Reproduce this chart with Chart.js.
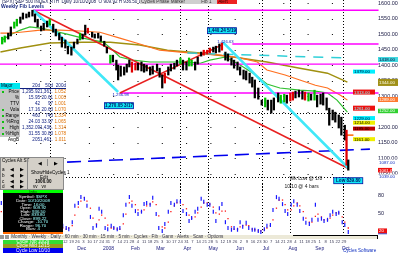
<!DOCTYPE html>
<html>
<head>
<meta charset="utf-8">
<script src="https://cdn.jsdelivr.net/npm/chart.js@4.4.1/dist/chart.umd.min.js"></script>
<style>
  body { margin: 0; width: 400px; height: 255px; overflow: hidden; background: #fff; position: relative; font-family: "Liberation Sans", Arial, sans-serif; }
  canvas { position: absolute; left: 0; }
  #main { top: 0; z-index: 1; }
  #osc { top: 184px; z-index: 2; }
  .abs { position: absolute; z-index: 3; white-space: nowrap; }
  .t { font-size: 4.6px; line-height: 6px; }
  .row { display: flex; height: 6px; }
  .row span { display: block; overflow: hidden; }
  .c1 { width: 20px; text-align: right; padding-right: 1px; box-sizing: border-box; position: relative; }
  .c2 { width: 20px; text-align: right; color: #102080; }
  .c3 { width: 13px; text-align: right; color: #102080; }
  .c4 { width: 13px; text-align: right; color: #e07000; }
  .g .c1 { background: #c4c4c4; }
  .sq::before { content: ""; position: absolute; left: 2px; top: 2px; width: 2px; height: 2px; background: #10c010; }
  #btns span { position: absolute; }
  #blk div { position: absolute; left: 0; width: 60px; font-size: 4.4px; line-height: 3.4px; }
</style>
</head>
<body>
<canvas id="main" width="400" height="190"></canvas>
<canvas id="osc" width="400" height="71"></canvas>

<div class="abs t" style="left:2px;top:-1px;color:#101850">[SPX] S&amp;P 500 INDEX,RTH &nbsp;Daily 10/10/2008 &nbsp;O 909.92 H 936.50 L 839.80 C 899.22</div>
<div class="abs t" style="left:140px;top:0;width:60px;height:4px;line-height:4px;background:#cfcfcf;color:#333">&nbsp;Cycles Phase Marker</div>
<div class="abs t" style="left:200px;top:0;width:17px;height:4px;line-height:4px;background:#cfcfcf;color:#333">&nbsp;Fib 1</div>
<div class="abs t" style="left:217px;top:0;width:20px;height:4px;line-height:4px;background:#ee2222;color:#300">&nbsp;Alert</div>
<div class="abs" style="left:1px;top:4px;font-size:5px;line-height:5px;color:#1a2a80;font-weight:bold">Weekly Fib Levels</div>

<div id="tbl" class="abs t" style="left:0;top:83px;width:66px">
  <div class="row"><span class="c1" style="background:#00e8f0;color:#002;text-align:left;padding-left:1px">Major</span><span class="c2" style="border-bottom:1px solid #102080;height:5px">20d</span><span class="c3" style="border-bottom:1px solid #102080;height:5px">50d</span><span class="c4" style="border-bottom:1px solid #102080;height:5px;color:#102080">200d</span></div>
  <div class="row g"><span class="c1 sq">Price</span><span class="c2">1,295.92</span><span class="c3">1,361.61</span><span class="c4">1.052</span></div>
  <div class="row g"><span class="c1">%</span><span class="c2">15.95</span><span class="c3">20.61</span><span class="c4">1.003</span></div>
  <div class="row g"><span class="c1">TTV</span><span class="c2">42</span><span class="c3">97</span><span class="c4">1.001</span></div>
  <div class="row g"><span class="c1 sq">Vola</span><span class="c2">17.16</span><span class="c3">20.63</span><span class="c4">1.070</span></div>
  <div class="row g"><span class="c1 sq">Range</span><span class="c2">460</span><span class="c3">743</span><span class="c4">1.334</span></div>
  <div class="row g"><span class="c1 sq">%Rng</span><span class="c2">24.03</span><span class="c3">33.97</span><span class="c4">1.065</span></div>
  <div class="row g"><span class="c1 sq">High</span><span class="c2">1,352.09</span><span class="c3">1,436.48</span><span class="c4">1.314</span></div>
  <div class="row g"><span class="c1 sq">%High</span><span class="c2">31.55</span><span class="c3">30.80</span><span class="c4">1.078</span></div>
  <div class="row"><span class="c1">AvgB</span><span class="c2">205</span><span class="c3">1,461.74</span><span class="c4">1.011</span></div>
</div>

<div id="btns" class="abs t" style="left:0;top:157px;width:62px;height:31px;background:#d4d0c8;border:1px solid #8a8a8a;color:#000">
  <span style="left:1px;top:0">Cycles Alt ST</span>
  <span style="left:26px;top:0;width:1px;height:31px;background:#8a8a8a"></span>
  <span style="left:1px;top:9px">a</span><span style="left:9px;top:9px">&#9664;</span><span style="left:19px;top:9px">&#9654;</span>
  <span style="left:1px;top:15px">b</span><span style="left:9px;top:15px">&#9664;</span><span style="left:19px;top:15px">&#9654;</span>
  <span style="left:1px;top:21px">c</span><span style="left:9px;top:21px">&#9664;</span><span style="left:19px;top:21px">&#9654;</span>
  <span style="left:1px;top:26px">d</span><span style="left:9px;top:26px">&#9664;</span><span style="left:19px;top:26px">&#9654;</span>
  <span style="left:37px;top:3px">&#9664;</span><span style="left:46px;top:1px;width:1px;height:7px;background:#8a8a8a"></span><span style="left:53px;top:3px">&#9654;</span>
  <span style="left:30px;top:12px">ShowHideCycles 1</span>
  <span style="left:39px;top:17px">Edit</span>
  <span style="left:34px;top:21px;font-weight:bold">1000.00</span>
  <span style="left:32px;top:26px">vv &nbsp; vv</span>
</div>

<div id="blk" class="abs" style="left:3px;top:190px;width:60px;height:44px;background:#000">
  <div style="top:0;height:3px;background:#00ff00;color:#040;text-align:center;line-height:3px">Info</div>
  <div style="top:5px;color:#fff;text-align:center">Symbol: <span style="color:#9ff">$SPX</span></div>
  <div style="top:9px;color:#fff;text-align:center">Date: <span style="color:#9ff">10/10/2008</span></div>
  <div style="top:12.5px;color:#fff;text-align:center">Time: <span style="color:#9ff">16:00</span></div>
  <div style="top:16px;color:#fff;text-align:center">Open: <span style="color:#9ff">909.92</span></div>
  <div style="top:19.5px;color:#fff;text-align:center">High: <span style="color:#9ff">936.50</span></div>
  <div style="top:23px;color:#fff;text-align:center">Low: <span style="color:#9ff">839.80</span></div>
  <div style="top:26.5px;color:#fff;text-align:center">Close: <span style="color:#9ff">899.22</span></div>
  <div style="top:30px;color:#fff;text-align:center">Change: <span style="color:#9ff">-10.70</span></div>
  <div style="top:33.5px;color:#fff;text-align:center">Range: <span style="color:#9ff">96.70</span></div>
  <div style="top:37px;color:#fff;text-align:center">Bars: <span style="color:#9ff">4</span></div>
  <div style="top:42px;height:2px;background:#ff6a00"></div>
</div>

<div class="abs" style="left:0;top:235px;width:4px;height:4px;background:#999"></div>
<div class="abs" style="left:5px;top:235px;width:4px;height:4px;background:#999"></div>
<div class="abs t" style="left:10px;top:235px;width:367px;height:4px;line-height:4px;background:#ece9d8;color:#334;border-right:1px solid #000">&nbsp;Monthly &middot; Weekly &middot; Daily &middot; 60 min &middot; 30 min &middot; 15 min &middot; 5 min &middot; Cycles &middot; Fib &middot; Gann &middot; Alerts &middot; Scan &middot; Options</div>
<div class="abs" style="left:293px;top:235px;width:85px;height:1px;background:#000"></div>
<div class="abs t" style="left:3px;top:239.5px;width:60px;height:4px;line-height:4px;background:#33dd33;color:#fff;text-align:center">Cycle Top 10/29</div>
<div class="abs t" style="left:3px;top:243.5px;width:60px;height:4px;line-height:4px;background:#9a9a20;color:#fff;text-align:center">Cycle Mid 12/15</div>
<div class="abs t" style="left:3px;top:247.5px;width:60px;height:5px;line-height:5px;background:#0000ee;color:#fff;text-align:center">Cycle Low 10/10</div>
<div class="abs t" style="left:343px;top:248px;color:#1030c0">Cycles Software</div>

<script>
// price bars (day 0 = 1 Sep 2007)
const candleDays = [-1, 2, 6, 9, 13, 16, 20, 23, 27, 30, 34, 37, 40, 44, 47, 51, 54, 58, 61, 65,
  68, 72, 75, 79, 82, 86, 89, 92, 95, 98, 103, 106, 110, 113, 117, 120, 124, 127, 131, 133,
  136, 140, 143, 146, 149, 153, 156, 160, 163, 166, 170, 173, 178, 181, 184, 187, 191, 194, 198, 201,
  205, 208, 212, 215, 218, 222, 225, 229, 232, 236, 239, 243, 246, 250, 253, 257, 260, 264, 267, 271,
  274, 278, 281, 285, 288, 291, 295, 299, 303, 306, 310, 313, 318, 321, 325, 328, 332, 335, 338, 342,
  346, 349, 353, 356, 360, 363, 367, 370, 374, 377, 381, 384, 388, 391, 395, 397, 399];
const candleHigh = [1490, 1494, 1503, 1523, 1539, 1548, 1555, 1568, 1565, 1571, 1577, 1565, 1548, 1526, 1535, 1542, 1548, 1532, 1516, 1503,
  1490, 1481, 1461, 1458, 1474, 1484, 1503, 1500, 1529, 1519, 1506, 1500, 1503, 1494, 1477, 1458, 1432, 1432, 1416, 1400,
  1397, 1394, 1403, 1416, 1410, 1406, 1406, 1410, 1403, 1400, 1394, 1397, 1403, 1390, 1368, 1374, 1394, 1403, 1406, 1416,
  1423, 1416, 1410, 1423, 1416, 1410, 1426, 1442, 1448, 1448, 1455, 1458, 1461, 1468, 1471, 1442, 1436, 1423, 1416, 1410,
  1394, 1384, 1381, 1374, 1361, 1352, 1326, 1287, 1294, 1287, 1287, 1294, 1310, 1303, 1306, 1303, 1310, 1313, 1316, 1319,
  1316, 1313, 1310, 1306, 1319, 1303, 1306, 1310, 1294, 1261, 1255, 1248, 1239, 1232, 1206, 1190, 1094];
const candleLow = [1468, 1474, 1484, 1494, 1519, 1526, 1535, 1548, 1552, 1555, 1558, 1539, 1523, 1510, 1513, 1523, 1529, 1506, 1494, 1481,
  1458, 1455, 1436, 1432, 1455, 1468, 1481, 1484, 1497, 1503, 1490, 1487, 1487, 1477, 1461, 1439, 1406, 1410, 1384, 1352,
  1364, 1368, 1377, 1394, 1377, 1384, 1384, 1381, 1377, 1381, 1368, 1371, 1381, 1361, 1326, 1342, 1368, 1381, 1387, 1397,
  1403, 1384, 1384, 1397, 1397, 1384, 1403, 1429, 1432, 1436, 1439, 1442, 1439, 1442, 1448, 1416, 1413, 1400, 1390, 1384,
  1368, 1355, 1352, 1342, 1329, 1294, 1290, 1271, 1265, 1255, 1245, 1255, 1281, 1277, 1281, 1277, 1284, 1287, 1294, 1297,
  1290, 1287, 1284, 1287, 1287, 1265, 1274, 1271, 1255, 1206, 1223, 1216, 1197, 1174, 1158, 1077, 1061];
// paint-bar signal: 1 up, -1 down, 0 neutral
const paintSignal = [1, 1, 0, 0, 1, 1, 0, 0, 0, 0, 0, 0, 0, 0, 0, 0, 1, 0, 0, 0,
  0, 0, 0, 0, 0, 0, 1, 0, 0, -1, 0, 0, 0, 0, 0, 0, 1, 0, 0, 0,
  0, 0, 0, 0, -1, -1, 0, 0, 0, 0, 0, 0, 0, 0, 0, -1, 0, 0, 0, 0,
  1, 0, 0, 1, 1, 0, 0, 0, -1, -1, -1, 0, 0, 0, -1, 0, 0, 0, 0, 0,
  0, 0, 0, 0, 0, 0, 0, 0, 1, 0, 0, 0, 0, 1, 1, 0, -1, -1, 0, 0,
  0, -1, 1, 0, 1, 0, 0, 0, 0, 0, 0, 0, 0, 0, 0, -1, 0];

// moving averages
const orangeDays = [-3, 8, 20, 43, 66, 89, 112, 135, 158, 181, 205, 228, 251, 274, 294, 305, 326, 343, 361, 375, 390, 398];
const orangeMA = [1503, 1503, 1506, 1513, 1513, 1510, 1506, 1487, 1468, 1448, 1442, 1436, 1432, 1423, 1410, 1384, 1368, 1352, 1335, 1326, 1303, 1287];
const greenDays = [-1, 8, 20, 31, 43, 54, 74, 92, 116, 127, 135, 150, 170, 190, 213, 228, 239, 257, 274, 289, 305, 320, 343, 361, 375, 386, 398];
const greenMA = [1481, 1497, 1513, 1523, 1519, 1513, 1500, 1487, 1474, 1448, 1426, 1416, 1410, 1410, 1410, 1406, 1416, 1426, 1400, 1374, 1339, 1326, 1319, 1316, 1310, 1287, 1248];
const oliveDays = [-3, 20, 54, 92, 124, 158, 190, 228, 266, 305, 343, 375, 398];
const oliveMA = [1442, 1455, 1471, 1474, 1474, 1465, 1448, 1439, 1426, 1410, 1390, 1374, 1345];

// trend lines and levels
const redTrendDays = [35, 398], redTrendPrices = [1577, 1068];
const redRiseDays = [135, 253], redRisePrices = [1310, 1465];
const cyanTrendDays = [35, 133], cyanTrendPrices = [1577, 1313];
const cyanFallDays = [254, 399], cyanFallPrices = [1474, 1068];
const fibLevels = [1577, 1468, 1403, 1310];
const fibStartDays = [35, 265, -4, 135];
const fibEndDay = 434;
const blueDays = [74, 424], bluePrices = [1087, 1129];
const cyanDashDays = [213, 395], cyanDashPrices = [1439, 1423];
const lastDays = [397, 405], lastPrices = [1174, 1174];
const denseLevels = [1245, 1039];
const cycleDays = [54, 205, 237, 299, 332, 393];

const priceTicks = [1600, 1550, 1500, 1450, 1400, 1350, 1300, 1250, 1200, 1150, 1100, 1050];
const markerPrices = [1418, 1379, 1344, 1313, 1289, 1252, 1261, 1229, 1214, 1195, 1161, 1087, 1061, 1039];
const markerKinds = ['cyanAxis', 'cyanIn', 'oliveAxis', 'redIn', 'orangeAxis', 'greenAxis', 'redIn', 'cyanIn', 'yellowIn', 'darkIn', 'yellowIn', 'blueText', 'redAxis', 'blueText'];

const noteDays = [253, 257, 134, 136, 399, 350, 345];
const notePrices = [1511, 1476, 1269, 1305, 1027, 1034, 1008];
const noteTexts = ['1,440.24 5/19', '1,426.63', '1,270.05 3/17', '1,256.98', 'Low 839.80', 'Wk Low @ 1/8', '10/10 @ 4 bars'];
const noteKinds = ['box', 'small', 'box', 'small', 'box', 'text', 'text'];

// oscillator
const oscDays = [-2, 69, 73, 76, 80, 83, 87, 90, 94, 97, 101, 104, 108, 111, 114, 118, 121, 125, 128, 132, 135,
  139, 142, 146, 149, 153, 156, 160, 163, 166, 170, 173, 177, 180, 184, 187, 191, 194, 198, 201, 205,
  208, 212, 215, 218, 222, 225, 229, 232, 236, 239, 243, 246, 250, 253, 257, 260, 264, 267, 271, 274,
  277, 281, 284, 288, 291, 295, 298, 302, 305, 309, 312, 316, 319, 323, 326, 329, 333, 336, 340, 343,
  347, 350, 354, 357, 361, 364, 368, 371, 375, 378, 381, 385, 388, 392, 395, 399];
const oscK = [68, 29, 25, 23, 35, 63, 68, 78, 75, 63, 44, 25, 29, 58, 53, 25, 23, 29, 25, 23, 25,
  47, 65, 78, 63, 54, 49, 53, 66, 68, 65, 77, 49, 25, 20, 32, 53, 68, 65, 71, 70,
  54, 49, 37, 42, 53, 58, 75, 70, 65, 65, 53, 37, 59, 66, 35, 25, 22, 25, 22, 35,
  27, 34, 25, 22, 22, 20, 18, 23, 29, 30, 56, 78, 75, 66, 54, 49, 65, 71, 65, 54,
  41, 34, 32, 39, 65, 39, 41, 37, 39, 47, 53, 49, 51, 35, 30, 18];
const oscD = [53, 25, 23, 25, 29, 47, 61, 71, 77, 71, 59, 42, 32, 39, 47, 42, 30, 25, 25, 23, 23,
  32, 49, 68, 71, 65, 56, 53, 56, 63, 66, 70, 65, 46, 27, 25, 35, 53, 63, 68, 70,
  65, 58, 47, 42, 44, 51, 61, 68, 68, 66, 61, 51, 49, 54, 54, 41, 27, 23, 23, 27,
  29, 30, 29, 23, 22, 20, 20, 22, 25, 29, 39, 59, 73, 73, 65, 56, 56, 63, 68, 63,
  53, 42, 35, 35, 45, 49, 44, 39, 39, 42, 47, 51, 51, 44, 35, 25];
const oscTicks = [80, 50];
const oscLastLabel = 20;

const monthDays = [91, 122, 153, 182, 213, 243, 274, 304, 335, 366, 396];
const monthLabels = ['Dec', '2008', 'Feb', 'Mar', 'Apr', 'May', 'Jun', 'Jul', 'Aug', 'Sep', 'Oct'];

const X_MIN = -3.5, X_MAX = 401;
const FONT = '"Liberation Sans", Arial, sans-serif';
Chart.defaults.font.family = FONT;

function pts(days, vals) {
    return days.map((d, i) => ({ x: d, y: vals[i] }));
}

function dayDate(d) {
    return new Date(2007, 8, 1 + d);
}

// weekly calendar ticks (Mondays)
const weekTicks = [];
for (let d = 2; d <= X_MAX; d += 7) weekTicks.push(d);

const markerStyles = {
    cyanAxis: { x: 378, w: 20, h: 5, bg: '#40d8e0', fg: '#003' },
    cyanIn: { x: 353, w: 22, h: 4, bg: '#00f0ff', fg: '#003' },
    oliveAxis: { x: 378, w: 20, h: 7, bg: '#a09018', fg: '#ffe' },
    redIn: { x: 353, w: 22, h: 5, bg: '#ee1010', fg: '#8ff' },
    orangeAxis: { x: 378, w: 20, h: 5, bg: '#ff7a30', fg: '#fff' },
    greenAxis: { x: 378, w: 20, h: 4.5, bg: '#30d030', fg: '#fff' },
    yellowIn: { x: 353, w: 22, h: 4, bg: '#f0f000', fg: '#000' },
    darkIn: { x: 353, w: 22, h: 4, bg: '#c00000', fg: '#000' },
    redAxis: { x: 378, w: 14, h: 4.5, bg: '#ee1010', fg: '#fff' },
    blueText: { x: 378, w: 20, h: 5, bg: '#fff', fg: '#1030c0' }
};

function hline(ctx, x1, x2, y) {
    ctx.beginPath(); ctx.moveTo(x1, y); ctx.lineTo(x2, y); ctx.stroke();
}
function vline(ctx, x, y1, y2) {
    ctx.beginPath(); ctx.moveTo(x, y1); ctx.lineTo(x, y2); ctx.stroke();
}

const dotGrid = {
    id: 'dotGrid',
    beforeDatasetsDraw(chart) {
        const { ctx, chartArea: a, scales } = chart;
        const x = scales.x, y = scales.y;
        ctx.save();
        ctx.strokeStyle = '#000';
        ctx.lineWidth = 1;
        if (chart.canvas.id === 'main') {
            ctx.setLineDash([1, 23.3]);
            ctx.lineDashOffset = -16;
            priceTicks.forEach(p => hline(ctx, a.left, a.right, Math.round(y.getPixelForValue(p)) + 0.5));
            ctx.setLineDash([1, 2]);
            ctx.lineDashOffset = 0;
            denseLevels.forEach(p => hline(ctx, a.left, a.right, Math.round(y.getPixelForValue(p)) + 0.5));
        }
        ctx.setLineDash([1, 2]);
        cycleDays.forEach(d => vline(ctx, Math.round(x.getPixelForValue(d)) + 0.5, a.top, a.bottom));
        ctx.restore();
    }
};

const notes = {
    id: 'notes',
    afterDatasetsDraw(chart) {
        const { ctx, scales: { x, y } } = chart;
        ctx.save();
        ctx.textBaseline = 'middle';
        ctx.textAlign = 'center';
        noteDays.forEach((d, i) => {
            const cx = x.getPixelForValue(d), cy = y.getPixelForValue(notePrices[i]);
            const kind = noteKinds[i];
            if (kind === 'box') {
                ctx.fillStyle = '#10e8f4';
                ctx.fillRect(cx - 14.5, cy - 3, 29, 6);
                ctx.strokeStyle = '#0010a0';
                ctx.lineWidth = 0.8;
                ctx.strokeRect(cx - 14.5, cy - 3, 29, 6);
                ctx.fillStyle = '#001060';
                ctx.font = 'bold 4.6px ' + FONT;
                ctx.fillText(noteTexts[i], cx, cy + 0.3);
            } else {
                ctx.fillStyle = kind === 'small' ? '#1020c0' : '#202020';
                ctx.font = (kind === 'small' ? '4.2px ' : '5px ') + FONT;
                ctx.fillText(noteTexts[i], cx, cy);
            }
        });
        ctx.restore();
    }
};

// right-hand axis text and coloured price boxes
const priceAxis = {
    id: 'priceAxis',
    afterDraw(chart) {
        const { ctx, scales: { y } } = chart;
        ctx.save();
        ctx.textBaseline = 'middle';
        ctx.font = '5.5px ' + FONT;
        ctx.fillStyle = '#202048';
        priceTicks.forEach(p => ctx.fillText(p.toFixed(2), 378, y.getPixelForValue(p)));
        ctx.font = '4.4px ' + FONT;
        markerPrices.forEach((p, i) => {
            const st = markerStyles[markerKinds[i]];
            const cy = y.getPixelForValue(p);
            ctx.fillStyle = st.bg;
            ctx.fillRect(st.x, cy - st.h / 2, st.w, st.h);
            ctx.fillStyle = st.fg;
            ctx.fillText(p.toFixed(2), st.x + 1, cy + 0.3);
        });
        ctx.restore();
    }
};

function lineSet(days, vals, color, width, extra) {
    return Object.assign({
        type: 'line', data: pts(days, vals), borderColor: color, borderWidth: width,
        pointRadius: 0, tension: 0, fill: false
    }, extra || {});
}

const datasets = [{
    type: 'bar',
    data: candleDays.map((d, i) => ({ x: d, y: [candleLow[i], candleHigh[i]] })),
    backgroundColor: paintSignal.map(s => s > 0 ? '#00c000' : s < 0 ? '#e00000' : '#000'),
    barThickness: 1.6,
    borderWidth: 0
},
lineSet(cyanTrendDays, cyanTrendPrices, '#40e8f8', 2.6),
lineSet(cyanFallDays, cyanFallPrices, '#40e8f8', 2.6),
lineSet(redTrendDays, redTrendPrices, '#e82020', 1.5),
lineSet(redRiseDays, redRisePrices, '#e82020', 1.5),
lineSet(lastDays, lastPrices, '#ff7010', 1.6, { clip: false })];

fibLevels.forEach((lv, i) => {
    datasets.push(lineSet([fibStartDays[i], fibEndDay], [lv, lv], '#ff00ff', 1.3, { clip: false }));
});
datasets.push(lineSet(blueDays, bluePrices, '#0000ee', 1.6, { borderDash: [14, 7], clip: false }));
datasets.push(lineSet(cyanDashDays, cyanDashPrices, '#30d0d8', 1.5, { borderDash: [10, 8] }));
datasets.push(lineSet(orangeDays, orangeMA, '#ff7020', 1.2));
datasets.push(lineSet(greenDays, greenMA, '#30c030', 1.2));
datasets.push(lineSet(oliveDays, oliveMA, '#a09010', 1.5));

new Chart(document.getElementById('main'), {
    type: 'bar',
    data: { datasets },
    options: {
        responsive: false,
        animation: false,
        layout: { padding: 0, autoPadding: false },
        plugins: { legend: { display: false }, tooltip: { enabled: false } },
        scales: {
            x: { type: 'linear', min: X_MIN, max: X_MAX, offset: false, display: false },
            y: {
                position: 'right', min: 997, max: 1610,
                afterFit(s) { s.width = 50; },
                grid: { display: false, drawTicks: false },
                border: { display: false },
                ticks: { display: false }
            }
        }
    },
    plugins: [dotGrid, notes, priceAxis]
});

// oscillator axis text, date rows and last-value box
const oscAxis = {
    id: 'oscAxis',
    afterDraw(chart) {
        const { ctx, chartArea: a, scales: { x, y } } = chart;
        ctx.save();
        ctx.textBaseline = 'middle';
        ctx.font = '5.5px ' + FONT;
        ctx.fillStyle = '#202048';
        oscTicks.forEach(v => ctx.fillText(String(v), 378, y.getPixelForValue(v)));
        const cy = y.getPixelForValue(oscLastLabel);
        ctx.fillStyle = '#ee1010';
        ctx.fillRect(378, cy - 2.5, 9, 5);
        ctx.fillStyle = '#1020c0';
        ctx.fillRect(378, cy + 2.5, 9, 0.8);
        ctx.fillStyle = '#fff';
        ctx.font = '4.4px ' + FONT;
        ctx.fillText(String(oscLastLabel), 379, cy + 0.3);

        ctx.textAlign = 'center';
        ctx.fillStyle = '#40405a';
        ctx.font = '4.2px ' + FONT;
        weekTicks.forEach(d => {
            const px = x.getPixelForValue(d);
            if (px > 62 && px < a.right) ctx.fillText(String(dayDate(d).getDate()), px, a.bottom + 6.5);
        });
        ctx.fillStyle = '#202080';
        ctx.font = '5px ' + FONT;
        monthDays.forEach((d, i) => ctx.fillText(monthLabels[i], x.getPixelForValue(d), a.bottom + 13.5));
        ctx.restore();
    }
};

new Chart(document.getElementById('osc'), {
    type: 'scatter',
    data: {
        datasets: [{
            data: pts(oscDays, oscK), pointStyle: 'line', rotation: 90, radius: 2,
            borderColor: '#1818ff', borderWidth: 1.2
        }, {
            data: pts(oscDays, oscD), pointStyle: 'rect', radius: 0.9,
            backgroundColor: '#ff1010', borderWidth: 0
        }]
    },
    options: {
        responsive: false,
        animation: false,
        layout: { padding: { left: 0, top: 0, right: 0, bottom: 20 }, autoPadding: false },
        plugins: { legend: { display: false }, tooltip: { enabled: false } },
        scales: {
            x: { type: 'linear', min: X_MIN, max: X_MAX, display: false },
            y: {
                position: 'right', min: 13, max: 100.5,
                afterFit(s) { s.width = 50; },
                grid: { display: false, drawTicks: false },
                border: { display: false },
                ticks: { display: false }
            }
        }
    },
    plugins: [dotGrid, oscAxis]
});
</script>
</body>
</html>
